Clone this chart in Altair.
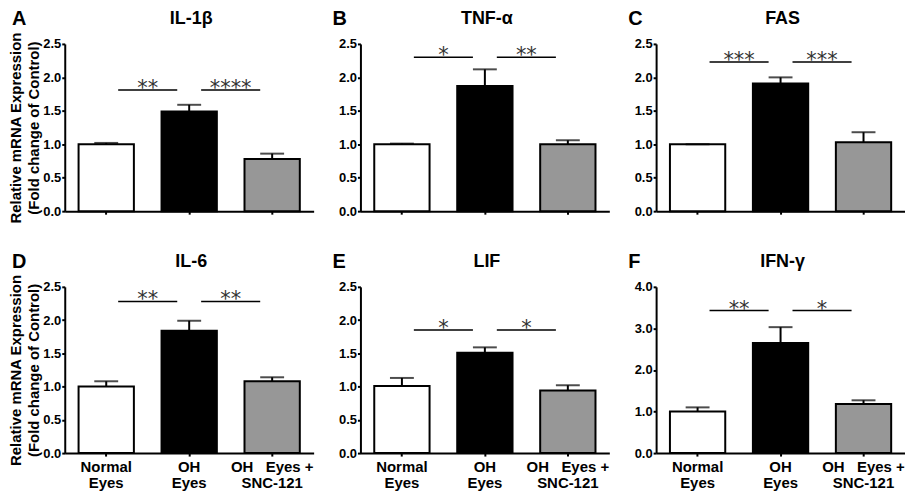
import altair as alt
import pandas as pd

# ---------------- data ----------------
group_lines = [["Normal", "Eyes"], ["OH", "Eyes"], ["OH\u00a0\u00a0\u00a0Eyes +", "SNC-121"]]
groups = ["\n".join(g) for g in group_lines]
fills = ["white", "black", "#979797"]

letters = ["A", "B", "C", "D", "E", "F"]
genes = ["IL-1β", "TNF-α", "FAS", "IL-6", "LIF", "IFN-γ"]

normal_mean = [1.00, 1.00, 1.00, 1.00, 1.01, 1.00]
normal_top = [1.02, 1.01, 1.00, 1.08, 1.13, 1.10]
oh_mean = [1.49, 1.87, 1.91, 1.84, 1.51, 2.65]
oh_top = [1.59, 2.12, 2.00, 1.99, 1.59, 3.03]
snc_mean = [0.78, 1.00, 1.03, 1.08, 0.94, 1.18]
snc_top = [0.86, 1.06, 1.18, 1.14, 1.02, 1.27]

sig_level = [1.81, 2.30, 2.23, 2.28, 1.85, 3.43]
sig_left = ["**", "*", "***", "**", "*", "**"]
sig_right = ["****", "**", "***", "**", "*", "*"]

y_max = [2.5, 2.5, 2.5, 2.5, 2.5, 4.0]
y_ticks = [[0.0, 0.5, 1.0, 1.5, 2.0, 2.5]] * 5 + [[0.0, 1.0, 2.0, 3.0, 4.0]]
y_title = ["Relative mRNA Expression", "(Fold change of Control)"]

FONT = "Liberation Sans"
W = 250
H1 = 168
H2 = 167
STEP = W / 3.0


def panel(i, row):
    h = H1 if row == 0 else H2
    df = pd.DataFrame({
        "group": groups,
        "mean": [normal_mean[i], oh_mean[i], snc_mean[i]],
        "top": [normal_top[i], oh_top[i], snc_top[i]],
        "fill": fills,
    })
    df_sig = pd.DataFrame({
        "g1": groups[:2],
        "g2": groups[1:],
        "y": [sig_level[i], sig_level[i]],
        "label": [sig_left[i], sig_right[i]],
    })
    xscale = alt.Scale(domain=groups, paddingInner=1 / 3, paddingOuter=1 / 6)
    yscale = alt.Scale(domain=[0, y_max[i]], nice=False, zero=True)

    if row == 1:
        x_axis = alt.Axis(title=None, labels=True, labelAngle=0,
                          labelExpr="split(datum.label, '\\n')",
                          labelFontSize=15, labelLineHeight=17, labelPadding=3,
                          labelOverlap=False)
    else:
        x_axis = alt.Axis(title=None, labels=False)

    y_axis = alt.Axis(title=y_title if i % 3 == 0 else None, values=y_ticks[i],
                      format=".1f", labelOverlap=False, tickCount=len(y_ticks[i]))

    base = alt.Chart(df)
    bars = base.mark_bar(stroke="black", strokeWidth=2).encode(
        x=alt.X("group:N", scale=xscale, axis=x_axis, sort=groups),
        y=alt.Y("mean:Q", scale=yscale, axis=y_axis),
        fill=alt.Fill("fill:N", scale=None),
    )
    err = base.mark_rule(color="black", strokeWidth=2).encode(
        x=alt.X("group:N", sort=groups), y="mean:Q", y2="top:Q"
    )
    cap = base.mark_tick(color="black", thickness=2, size=24).encode(
        x=alt.X("group:N", sort=groups), y="top:Q"
    )
    sig_rules = alt.Chart(df_sig).mark_rule(
        color="black", strokeWidth=1.5, xOffset=12, x2Offset=-12
    ).encode(x=alt.X("g1:N", sort=groups), x2="g2:N", y="y:Q")
    sig_text = alt.Chart(df_sig).mark_text(
        font="DejaVu Sans", fontSize=21, xOffset=STEP / 2, dy=5,
        baseline="alphabetic", color="#333333"
    ).encode(x=alt.X("g1:N", sort=groups), y="y:Q", text="label:N")

    letter = alt.Chart(pd.DataFrame({"t": [letters[i]]})).mark_text(
        font=FONT, fontSize=20, fontWeight="bold", align="left",
        baseline="alphabetic", color="black"
    ).encode(x=alt.value(-53 if i % 3 == 0 else -28), y=alt.value(-19), text="t:N")
    gene = alt.Chart(pd.DataFrame({"t": [genes[i]]})).mark_text(
        font=FONT, fontSize=18, fontWeight="bold", align="center",
        baseline="alphabetic", color="black"
    ).encode(x=alt.value(W / 2 + 2), y=alt.value(-20), text="t:N")

    return alt.layer(bars, err, cap, sig_rules, sig_text, letter, gene).properties(
        width=W, height=h
    )


row1 = alt.hconcat(panel(0, 0), panel(1, 0), panel(2, 0), spacing=19)
row2 = alt.hconcat(panel(3, 1), panel(4, 1), panel(5, 1), spacing=19)

chart = alt.vconcat(row1, row2, spacing=28).properties(
    padding=0
).configure_view(stroke=None).configure_axis(
    grid=False,
    domainColor="black", domainWidth=2,
    tickColor="black", tickWidth=2, tickSize=3,
    labelFont=FONT, labelFontSize=13, labelFontWeight="bold", labelColor="black",
    labelPadding=1,
    titleFont=FONT, titleFontSize=15, titleFontWeight="bold", titleColor="black",
    titleLineHeight=18, titlePadding=1,
)

chart.save("out.html", embed_options={"renderer": "svg", "actions": False})
